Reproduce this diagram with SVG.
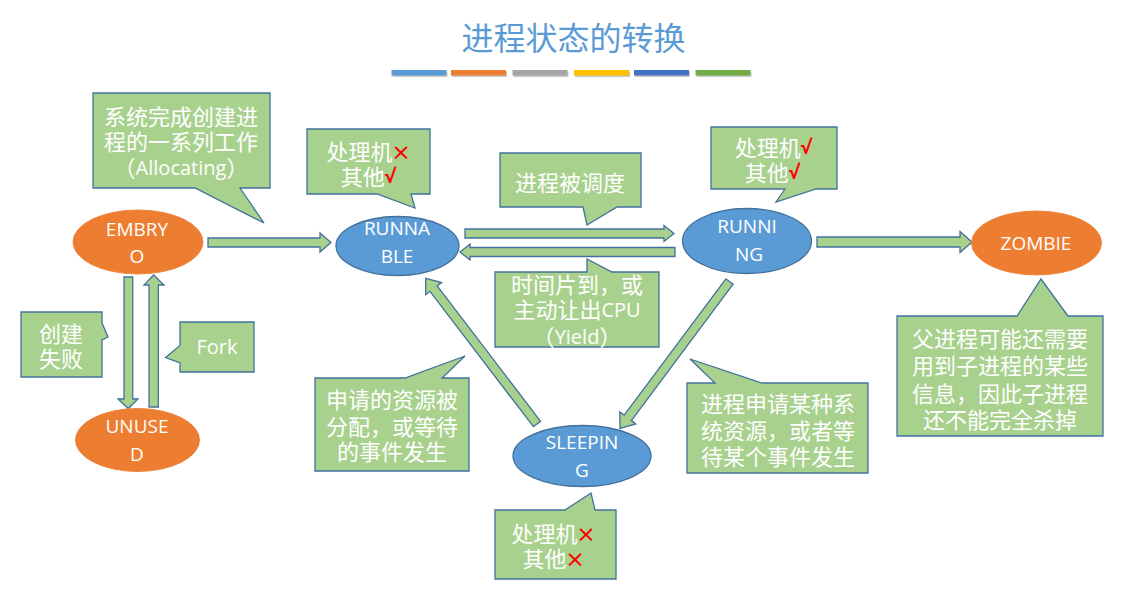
<svg xmlns="http://www.w3.org/2000/svg" width="1141" height="602" viewBox="0 0 1141 602">
<style>
text{font-family:"Open Sans","Noto Sans CJK SC",sans-serif;dominant-baseline:central;text-anchor:middle;fill:#FFFFFF}
.t{font-size:32px;fill:#5B9BD5;font-family:"Noto Sans CJK SC",sans-serif}
.n{font-size:19px}
.c{font-size:22px}
.l{font-size:20px}
.red{fill:#FF0000;font-size:30px;font-family:"Open Sans",sans-serif}
.chk{fill:#FF0000;font-weight:bold;font-size:19px}
.call{fill:#A9D18E;stroke:#41719C;stroke-width:1.3}
.arr{fill:#A9D18E;stroke:#41719C;stroke-width:1.3;stroke-linejoin:miter}
.or{fill:#ED7D31;stroke:#EE8540;stroke-width:1}
.bl{fill:#5B9BD5;stroke:#41719C;stroke-width:1.3}
.sh{fill:#000000;opacity:0.22}
</style>
<rect width="1141" height="602" fill="#FFFFFF"/>
<g id="title">
<text class="t" x="573.5" y="35.5">进程状态的转换</text>
<rect class="sh" x="392.5" y="71.5" width="55" height="5.5"/>
<rect class="sh" x="452" y="71.5" width="55" height="5.5"/>
<rect class="sh" x="513.5" y="71.5" width="55" height="5.5"/>
<rect class="sh" x="575" y="71.5" width="55" height="5.5"/>
<rect class="sh" x="635" y="71.5" width="55" height="5.5"/>
<rect class="sh" x="696.5" y="71.5" width="55" height="5.5"/>
<rect x="391.5" y="70" width="55" height="5.5" fill="#5B9BD5"/>
<rect x="451" y="70" width="55" height="5.5" fill="#ED7D31"/>
<rect x="512.5" y="70" width="55" height="5.5" fill="#A5A5A5"/>
<rect x="574" y="70" width="55" height="5.5" fill="#FFC000"/>
<rect x="634" y="70" width="55" height="5.5" fill="#4472C4"/>
<rect x="695.5" y="70" width="55" height="5.5" fill="#70AD47"/>
</g>
<g id="connectors">
<polygon class="arr" points="208,238 320,238 320,233 331,242.5 320,252 320,247 208,247"/>
<polygon class="arr" points="465,229 664,229 664,225.5 674,233.5 664,241.5 664,238 465,238"/>
<polygon class="arr" points="675,247.5 470,247.5 470,244 460,252 470,260 470,256.5 675,256.5"/>
<polygon class="arr" points="817,237 960,237 960,231.5 972,242 960,252.5 960,247 817,247"/>
<polygon class="arr" points="124,277 124,399 118,399 128.3,408.5 138,399 132.7,399 132.7,277"/>
<polygon class="arr" points="149,407 149,285 144,285 153.7,275 164,285 158.3,285 158.3,407"/>
<polygon class="arr" points="540.6,421.3 437.2,285.9 441.6,282.5 425.7,278.3 425.7,294.7 430,291.3 533.4,426.7"/>
<polygon class="arr" points="733.1,284.2 631.4,420.6 635.8,423.9 620,428.3 619.8,411.9 624.2,415.2 725.9,278.8"/>
</g>
<g id="embryo">
<ellipse class="or" cx="138" cy="242" rx="65" ry="32"/>
<text class="n" x="137" y="229">EMBRY</text>
<text class="n" x="137" y="256">O</text>
</g>
<g id="runnable">
<ellipse class="bl" cx="397.5" cy="246" rx="61.5" ry="29.5"/>
<text class="n" x="397" y="228">RUNNA</text>
<text class="n" x="397" y="256">BLE</text>
</g>
<g id="running">
<ellipse class="bl" cx="747" cy="241" rx="64.5" ry="32.5"/>
<text class="n" x="747" y="226">RUNNI</text>
<text class="n" x="749" y="254">NG</text>
</g>
<g id="zombie">
<ellipse class="or" cx="1036.5" cy="243" rx="65" ry="32"/>
<text class="n" x="1036" y="243">ZOMBIE</text>
</g>
<g id="unused">
<ellipse class="or" cx="137.5" cy="440" rx="62" ry="31.5"/>
<text class="n" x="137" y="426">UNUSE</text>
<text class="n" x="137" y="454">D</text>
</g>
<g id="sleeping">
<ellipse class="bl" cx="582" cy="456" rx="69" ry="30.5"/>
<text class="n" x="582" y="442">SLEEPIN</text>
<text class="n" x="582" y="470">G</text>
</g>
<g id="note-allocating">
<path class="call" d="M93,93 H270 V188 H240 L264,223 L195,188 H93 Z"/>
<text class="c" x="181" y="116">系统完成创建进</text>
<text class="c" x="181" y="141">程的一系列工作</text>
<text class="c" x="181" y="167">（<tspan class="l">Allocating</tspan>）</text>
</g>
<g id="note-runnable">
<path class="call" d="M307,129 H430 V194 H411 L415,208 L377,194 H307 Z"/>
<text class="c" x="368" y="150.5">处理机<tspan class="red">×</tspan></text>
<text class="c" x="368" y="176">其他<tspan class="chk">√</tspan></text>
</g>
<g id="note-dispatch">
<path class="call" d="M500,153 H641 V207 H617 L587,225 L583,207 H500 Z"/>
<text class="c" x="570" y="181.5">进程被调度</text>
</g>
<g id="note-running">
<path class="call" d="M711,127 H837 V189 H816 L776,202 L785,189 H711 Z"/>
<text class="c" x="773" y="146.5">处理机<tspan class="chk">√</tspan></text>
<text class="c" x="772" y="171.5">其他<tspan class="chk">√</tspan></text>
</g>
<g id="note-fail">
<path class="call" d="M21,312 H102 V323 L108,337 L102,340 V377 H21 Z"/>
<text class="c" x="61" y="333">创建</text>
<text class="c" x="61" y="358">失败</text>
</g>
<g id="note-fork">
<path class="call" d="M180,322 H254 V372 H180 V363 L165.5,357.5 L180,345.5 Z"/>
<text class="l" x="217" y="346">Fork</text>
</g>
<g id="note-yield">
<path class="call" d="M495,272 H587 L587,259 L612,272 H659 V347 H495 Z"/>
<text class="c" x="577" y="284">时间片到，或</text>
<text class="c" x="577" y="309">主动让出<tspan class="l">CPU</tspan></text>
<text class="c" x="577" y="336">（<tspan class="l">Yield</tspan>）</text>
</g>
<g id="note-wakeup">
<path class="call" d="M315,378 H405 L465,356 L442,378 H469 V471 H315 Z"/>
<text class="c" x="392" y="399">申请的资源被</text>
<text class="c" x="392" y="425.5">分配，或等待</text>
<text class="c" x="392" y="451">的事件发生</text>
</g>
<g id="note-sleep">
<path class="call" d="M687,383 H715 L690,359 L762,383 H868 V473 H687 Z"/>
<text class="c" x="778" y="403">进程申请某种系</text>
<text class="c" x="778" y="429.5">统资源，或者等</text>
<text class="c" x="778" y="456">待某个事件发生</text>
</g>
<g id="note-zombie">
<path class="call" d="M897,316 H1017 L1041,279 L1068,316 H1103 V436 H897 Z"/>
<text class="c" x="1000" y="337.5">父进程可能还需要</text>
<text class="c" x="1000" y="365">用到子进程的某些</text>
<text class="c" x="1000" y="392.5">信息，因此子进程</text>
<text class="c" x="1000" y="418.5">还不能完全杀掉</text>
</g>
<g id="note-sleeping">
<path class="call" d="M495,510 H565 L591,493 L595,510 H616 V579 H495 Z"/>
<text class="c" x="553" y="532.5">处理机<tspan class="red">×</tspan></text>
<text class="c" x="553" y="557.5">其他<tspan class="red">×</tspan></text>
</g>
</svg>
